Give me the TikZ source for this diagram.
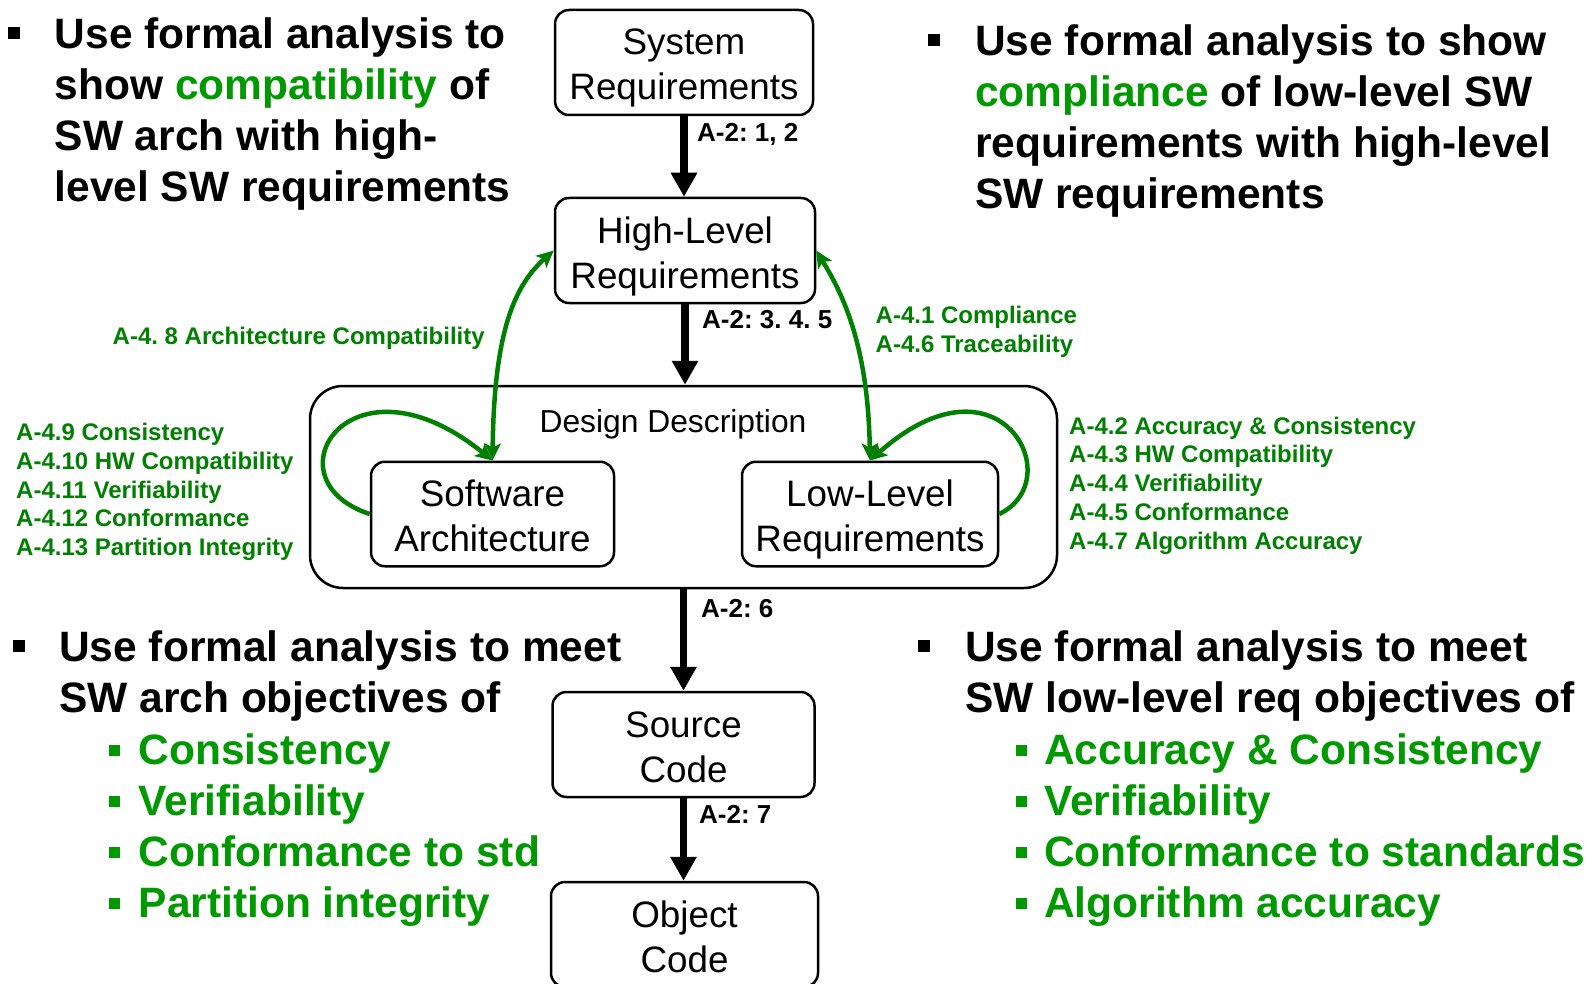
\documentclass[tikz,border=0pt]{standalone}
\usepackage{fontspec}
\setmainfont{Liberation Sans}
\usetikzlibrary{arrows.meta}
\definecolor{lgreen}{RGB}{0,153,0}
\definecolor{dgreen}{RGB}{0,128,0}
\frenchspacing
\newcommand\myBig{\fontsize{42.5}{51}\selectfont\bfseries}
\newcommand\myBox{\fontsize{36.8}{45}\selectfont}
\newcommand\myDD{\fontsize{31.8}{38}\selectfont}
\newcommand\myLab{\fontsize{24}{28.75}\selectfont\bfseries}
\newcommand\myBlk{\fontsize{26}{30}\selectfont\bfseries}
\newcommand\twoln[2]{\rule{0pt}{37.7pt}#1\\#2\rule[-7.7pt]{0pt}{7.7pt}}
\begin{document}
\begin{tikzpicture}[x=1pt,y=-1pt,
  box/.style={draw, line width=2.5pt, rounded corners=14pt, align=center, font=\myBox, inner sep=0pt, minimum height=105pt},
  bigtxt/.style={anchor=base west, inner sep=0pt, font=\myBig},
  subtxt/.style={anchor=base west, inner sep=0pt, font=\myBig, text=lgreen},
  glab/.style={anchor=base west, inner sep=0pt, font=\myLab, text=dgreen},
  blab/.style={anchor=base west, inner sep=0pt, font=\myBlk},
  flow/.style={line width=7.5pt, arrows={-Triangle[length=24pt,width=25pt]}},
  gboth/.style={draw=dgreen, line width=4.5pt, arrows={Stealth[length=17pt,width=16pt,inset=4pt]-Stealth[length=17pt,width=16pt,inset=4pt]}},
  gone/.style={draw=dgreen, line width=4.5pt, arrows={-Stealth[length=17pt,width=16pt,inset=4pt]}},
  blk/.style={fill=black},
  gblk/.style={fill=lgreen}
]
\useasboundingbox (0,0) rectangle (1589,984);
\clip (0,0) rectangle (1589,984);

% ---------- boxes ----------
\node[box, minimum width=258pt] (sys) at (684,62.5) {\twoln{System}{Requirements}};
\node[box, minimum width=260pt] (hl) at (685,250.5) {\twoln{High-Level}{Requirements}};
\node[draw, line width=2.5pt, rounded corners=33pt, minimum width=747pt, minimum height=202pt, inner sep=0pt] (dd) at (683.5,487) {};
\node[font=\myDD, inner sep=0pt] (ddt) at (673,424.5) {Design Description};
\node[box, minimum width=243pt, minimum height=104.5pt] (sa) at (492.5,514) {\twoln{Software}{Architecture}};
\node[box, minimum width=256pt, minimum height=104.5pt] (ll) at (870,514) {\twoln{Low-Level}{Requirements}};
\node[box, minimum width=262pt] (src) at (683.5,744.5) {\twoln{Source}{Code}};
\node[box, minimum width=267pt] (obj) at (684.5,934.5) {\twoln{Object}{Code}};

% ---------- black flow arrows ----------
\draw[flow] (sys.south) -- (sys.south |- hl.north);
\draw[flow] (hl.south) -- (hl.south |- dd.north);
\draw[flow] (src.north |- dd.south) -- (src.north);
\draw[flow] (src.south) -- (src.south |- obj.north);

\node[blab] (l1) at (697,142) {A-2: 1, 2};
\node[blab] (l2) at (702,328) {A-2: 3. 4. 5};
\node[blab] (l3) at (701,617) {A-2: 6};
\node[blab] (l4) at (699,823) {A-2: 7};

% ---------- green arrows ----------
\draw[gboth] (sa.north) .. controls (494,330) and (515,285) .. (hl.west);
\draw[gboth] (hl.east) .. controls (840,290) and (868,340) .. (ll.north);
\draw[gone] (sa.west) .. controls (265,480) and (350,345) .. (sa.north);
\draw[gone] (ll.east) .. controls (1070,480) and (1000,345) .. (ll.north);

% ---------- green labels ----------
\node[glab] (g48) at (112.5,344) {A-4. 8 Architecture Compatibility};
\node[glab] (g41) at (875.5,323.5) {A-4.1 Compliance};
\node[glab] (g46) at (875.5,352.5) {A-4.6 Traceability};

\node[glab] (g49) at (16,440.5) {A-4.9 Consistency};
\node[glab] (g410) at (16,469.25) {A-4.10 HW Compatibility};
\node[glab] (g411) at (16,498) {A-4.11 Verifiability};
\node[glab] (g412) at (16,526.75) {A-4.12 Conformance};
\node[glab] (g413) at (16,555.5) {A-4.13 Partition Integrity};

\node[glab] (g42) at (1069,434) {A-4.2 Accuracy \& Consistency};
\node[glab] (g43) at (1069,462.75) {A-4.3 HW Compatibility};
\node[glab] (g44) at (1069,491.5) {A-4.4 Verifiability};
\node[glab] (g45) at (1069,520.25) {A-4.5 Conformance};
\node[glab] (g47) at (1069,549) {A-4.7 Algorithm Accuracy};

% ---------- top-left text ----------
\fill[blk] (8,27) rectangle (20,39);
\node[bigtxt] (tl1) at (54.5,49) {Use formal analysis to};
\node[bigtxt] (tl2) at (54.5,100) {show \textcolor{lgreen}{compatibility} of};
\node[bigtxt] (tl3) at (54.5,151) {SW arch with high-};
\node[bigtxt] (tl4) at (54.5,202) {level SW requirements};

% ---------- top-right text ----------
\fill[blk] (928,34) rectangle (940,46);
\node[bigtxt] (tr1) at (975,55.5) {Use formal analysis to show};
\node[bigtxt] (tr2) at (975,106.5) {\textcolor{lgreen}{compliance} of low-level SW};
\node[bigtxt] (tr3) at (975,157.5) {requirements with high-level};
\node[bigtxt] (tr4) at (975,208.5) {SW requirements};

% ---------- bottom-left text ----------
\fill[blk] (13,640) rectangle (25,652);
\node[bigtxt] (bl1) at (59,661) {Use formal analysis to meet};
\node[bigtxt] (bl2) at (59,712) {SW arch objectives of};
\foreach \yy/\nm/\tx in {764/bla/Consistency, 815/blb/Verifiability, 866/blc/Conformance to std, 917/bld/Partition integrity}{
  \fill[gblk] (109,\yy-19.5) rectangle (120,\yy-8.5);
  \node[subtxt] (\nm) at (138.5,\yy) {\tx};
}

% ---------- bottom-right text ----------
\fill[blk] (918,640) rectangle (930,652);
\node[bigtxt] (br1) at (965,661) {Use formal analysis to meet};
\node[bigtxt] (br2) at (965,712) {SW low-level req objectives of};
\foreach \yy/\nm/\tx in {764/bra/Accuracy \& Consistency, 815/brb/Verifiability, 866/brc/Conformance to standards, 917/brd/Algorithm accuracy}{
  \fill[gblk] (1015.5,\yy-19.5) rectangle (1026.5,\yy-8.5);
  \node[subtxt] (\nm) at (1044,\yy) {\tx};
}
\end{tikzpicture}
\end{document}
